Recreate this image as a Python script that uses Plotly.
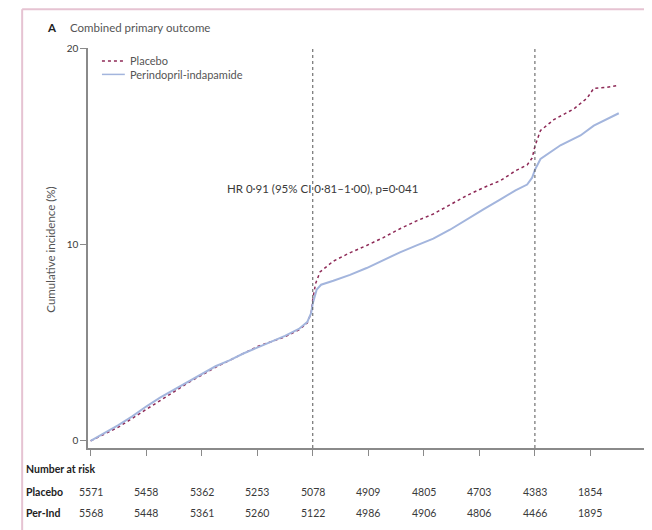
import plotly.graph_objects as go

# Time since randomisation (tick units) and cumulative incidence (%)
placebo_t = [0, 0.25, 0.5, 0.75, 1.0, 1.25, 1.5, 1.75, 2.0, 2.25, 2.5, 2.75, 3.0, 3.25, 3.5,
             3.75, 3.9, 3.97, 4.0, 4.05, 4.13, 4.37, 4.65, 4.97, 5.27, 5.57, 5.87, 6.17, 6.47,
             6.78, 7.08, 7.38, 7.65, 7.86, 7.95, 8.0, 8.1, 8.34, 8.7, 8.94, 9.06, 9.3, 9.51]
placebo_y = [0, 0.35, 0.7, 1.15, 1.6, 2.05, 2.5, 2.95, 3.35, 3.75, 4.1, 4.45, 4.8, 5.05, 5.3,
             5.65, 6.0, 6.5, 7.2, 8.0, 8.6, 9.15, 9.55, 9.95, 10.35, 10.8, 11.2, 11.55, 12.0,
             12.5, 12.9, 13.25, 13.75, 14.05, 14.4, 15.0, 15.8, 16.35, 16.9, 17.45, 17.95, 18.0, 18.1]

perind_t = [0, 0.25, 0.5, 0.75, 1.0, 1.25, 1.5, 1.75, 2.0, 2.25, 2.5, 2.75, 3.0, 3.25, 3.5,
            3.75, 3.9, 3.97, 4.0, 4.07, 4.15, 4.37, 4.67, 4.97, 5.27, 5.57, 5.87, 6.17, 6.47,
            6.78, 7.08, 7.38, 7.65, 7.86, 7.95, 8.0, 8.1, 8.46, 8.82, 9.06, 9.3, 9.51]
perind_y = [0, 0.4, 0.8, 1.25, 1.75, 2.2, 2.6, 3.0, 3.4, 3.8, 4.1, 4.45, 4.75, 5.05, 5.35,
            5.7, 6.05, 6.5, 7.0, 7.7, 7.95, 8.15, 8.45, 8.8, 9.2, 9.6, 9.95, 10.3, 10.75,
            11.3, 11.8, 12.3, 12.75, 13.05, 13.4, 13.8, 14.35, 15.05, 15.55, 16.05, 16.4, 16.68]

# number at risk at each tick
risk_times = [0, 1, 2, 3, 4, 5, 6, 7, 8, 9]
risk_placebo = [5571, 5458, 5362, 5253, 5078, 4909, 4805, 4703, 4383, 1854]
risk_perind = [5568, 5448, 5361, 5260, 5122, 4986, 4906, 4806, 4466, 1895]

x_ticks = list(range(11))
y_ticks = [0, 10, 20]
landmarks = [4, 8]

FONT = "Lato"
TXT = "#3a3a3a"
AXIS = "#8a8a8a"
PLACEBO_COL = "#8e2a57"
PERIND_COL = "#a3b5dd"

fig = go.Figure()
fig.add_trace(go.Scatter(x=placebo_t, y=placebo_y, mode="lines", name="Placebo", showlegend=False,
                         line=dict(color=PLACEBO_COL, width=1.5, dash="dot")))
fig.add_trace(go.Scatter(x=perind_t, y=perind_y, mode="lines", name="Perindopril-indapamide",
                         showlegend=False, line=dict(color=PERIND_COL, width=2)))

for t in landmarks:
    fig.add_shape(type="line", x0=t, x1=t, y0=-0.36, y1=20, xref="x", yref="y",
                  line=dict(color="#555555", width=1, dash="dot"))

# frame around the panel
fig.add_shape(type="line", xref="paper", yref="paper", x0=-0.118, x1=1.05, y0=1.097, y1=1.097,
              line=dict(color="#e6c3d2", width=2))
fig.add_shape(type="line", xref="paper", yref="paper", x0=-0.118, x1=-0.118, y0=1.097, y1=-0.25,
              line=dict(color="#e6c3d2", width=2))

# small legend, drawn by hand so the rows sit close together
fig.add_shape(type="line", xref="paper", yref="paper", x0=0.025, x1=0.066, y0=0.9675, y1=0.9675,
              line=dict(color=PLACEBO_COL, width=1.5, dash="dot"))
fig.add_shape(type="line", xref="paper", yref="paper", x0=0.025, x1=0.066, y0=0.934, y1=0.934,
              line=dict(color=PERIND_COL, width=1.5))

anns = [
    dict(x=0.0717, y=0.9675, xref="paper", yref="paper", text="Placebo", showarrow=False,
         xanchor="left", yanchor="middle", font=dict(size=11, color="#555")),
    dict(x=0.0717, y=0.934, xref="paper", yref="paper", text="Perindopril-indapamide",
         showarrow=False, xanchor="left", yanchor="middle", font=dict(size=11, color="#555")),
    dict(x=-0.077, y=1.0525, xref="paper", yref="paper", text="<b>A</b>", showarrow=False,
         xanchor="left", yanchor="middle", font=dict(size=11.5, color="#222")),
    dict(x=-0.036, y=1.0525, xref="paper", yref="paper", text="Combined primary outcome",
         showarrow=False, xanchor="left", yanchor="middle", font=dict(size=11.5, color="#555")),
    dict(x=-0.084, y=0.495, xref="paper", yref="paper", text="Cumulative incidence (%)",
         textangle=-90, showarrow=False, font=dict(size=11.5, color="#555")),
    dict(x=4.17, y=12.85, xref="x", yref="y", text="HR 0·91 (95% CI 0·81–1·00), p=0·041",
         showarrow=False, font=dict(size=11.5, color=TXT)),
    dict(x=-0.115, y=-0.0525, xref="paper", yref="paper", text="<b>Number at risk</b>",
         showarrow=False, xanchor="left", yanchor="middle", font=dict(size=10.5, color="#222")),
    dict(x=-0.115, y=-0.11, xref="paper", yref="paper", text="<b>Placebo</b>",
         showarrow=False, xanchor="left", yanchor="middle", font=dict(size=10.5, color="#222")),
    dict(x=-0.115, y=-0.1625, xref="paper", yref="paper", text="<b>Per-Ind</b>",
         showarrow=False, xanchor="left", yanchor="middle", font=dict(size=10.5, color="#222")),
]
for t, n in zip(risk_times, risk_placebo):
    anns.append(dict(x=t, y=-0.11, xref="x", yref="paper", text=str(n), showarrow=False,
                     yanchor="middle", font=dict(size=10.5, color=TXT)))
for t, n in zip(risk_times, risk_perind):
    anns.append(dict(x=t, y=-0.1625, xref="x", yref="paper", text=str(n), showarrow=False,
                     yanchor="middle", font=dict(size=10.5, color=TXT)))

# the page adds an 8px body margin, so the margins are shifted to compensate
fig.update_layout(
    width=652, height=530,
    margin=dict(l=80, r=14, t=40, b=90),
    paper_bgcolor="white", plot_bgcolor="white",
    font=dict(family=FONT, size=10, color=TXT),
    showlegend=False,
    annotations=anns,
)
fig.update_xaxes(range=[-0.047, 10], tickvals=x_ticks, showticklabels=False, ticks="outside",
                 ticklen=6, tickcolor=AXIS, showline=True, linecolor=AXIS, linewidth=1.5,
                 showgrid=False, zeroline=False)
fig.update_yaxes(range=[-0.36, 20], tickvals=y_ticks, ticks="outside", ticklen=6,
                 tickcolor=AXIS, showline=True, linecolor=AXIS, linewidth=1.5,
                 showgrid=False, zeroline=False, tickfont=dict(size=10, color=TXT))

fig.write_html("out.html")
